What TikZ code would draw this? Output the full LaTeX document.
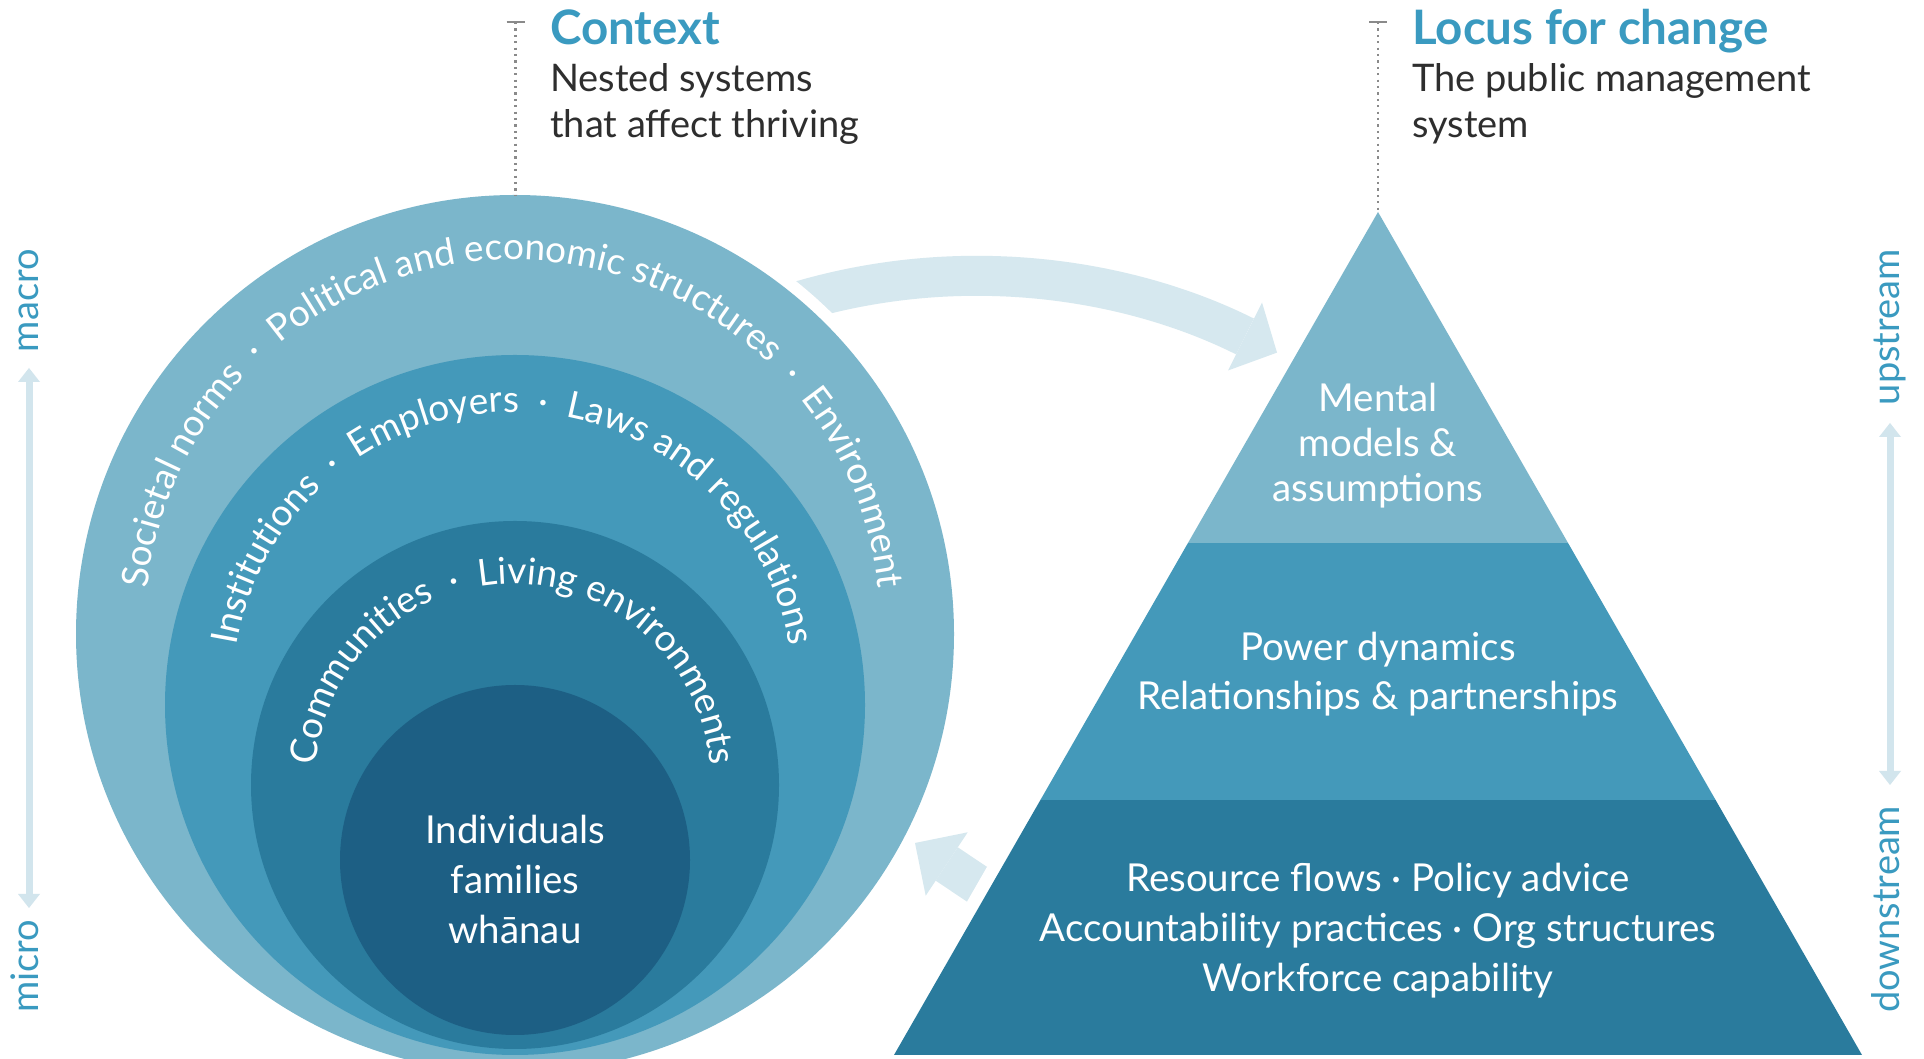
\documentclass[tikz,border=0pt]{standalone}
\usepackage{fontspec}
\setmainfont{Lato}
\usetikzlibrary{calc,decorations.text}
\definecolor{ringA}{HTML}{7BB6CB}
\definecolor{ringB}{HTML}{4499BA}
\definecolor{ringC}{HTML}{2A7B9D}
\definecolor{ringD}{HTML}{1D5F84}
\definecolor{flow}{HTML}{D6E8EF}
\definecolor{axisc}{HTML}{D2E5ED}
\definecolor{headc}{HTML}{3A9AC0}
\definecolor{bodyc}{HTML}{2E2E2E}
\definecolor{leader}{HTML}{8A8A8A}
\begin{document}
\begin{tikzpicture}[x=1pt,y=1pt,
  flowband/.style={draw=flow, line width=40pt},
  axisshaft/.style={draw=axisc, line width=7pt},
  axislabel/.style={text=headc, font=\fontsize{38}{40}\selectfont, inner sep=0pt, rotate=90},
  titletext/.style={text=headc, font=\bfseries\fontsize{47.5}{50}\selectfont, inner sep=0pt, anchor=base west},
  subtext/.style={text=bodyc, font=\fontsize{38}{44}\selectfont, inner sep=0pt, anchor=base west},
  leaderline/.style={draw=leader, line width=2.2pt, dash pattern=on 2.2pt off 4.2pt},
  leadertick/.style={draw=leader, line width=2pt},
  inside/.style={text=white, align=center, font=\fontsize{38.5}{50}\selectfont, inner sep=0pt},
  ringlabel/.style={decorate, decoration={text along path,
      text align=center, text color=white,
      text={|\fontsize{37}{40}\selectfont|#1}}}
]
\useasboundingbox (0,0) rectangle (1924,1059);
\fill[white] (0,0) rectangle (1924,1059);
\clip (0,0) rectangle (1924,1059);

% key points
\coordinate (c1) at (515,425);
\coordinate (c2) at (515,354);
\coordinate (c3) at (515,274);
\coordinate (c4) at (515,199);
\coordinate (apex) at (1378,847);
\coordinate (bl) at (894,4);
\coordinate (br) at (1862,4);
\coordinate (l1) at ($(apex)!0.3926!(bl)$);
\coordinate (r1) at ($(apex)!0.3926!(br)$);
\coordinate (l2) at ($(apex)!0.6975!(bl)$);
\coordinate (r2) at ($(apex)!0.6975!(br)$);

% upper flow arrow: circle -> pyramid
\coordinate (fs) at (800,758);
\coordinate (fb) at (1245,722.5);
\coordinate (ft) at (1277,706.4);
\coordinate (fw1) at (1262,756.5);
\coordinate (fw2) at (1228,688.5);
\draw[flowband] (fs) .. controls (964,806) and (1129,780.5) .. (fb);
\fill[flow] (fw1) -- (ft) -- (fw2) -- cycle;

% lower flow arrow: pyramid -> circle
\coordinate (gs) at (1023,144);
\coordinate (gb) at (946.7,195);
\coordinate (gt) at (915,216);
\coordinate (gw1) at (967.7,226.7);
\coordinate (gw2) at (925.7,163.3);
\draw[flowband] (gs) -- (gb);
\fill[flow] (gw1) -- (gt) -- (gw2) -- cycle;

% white gaps around the two shapes
\fill[white] (c1) circle (451);
\draw[white, line width=26pt, line join=miter] (apex) -- (bl) -- (br) -- cycle;

% nested circles
\fill[ringA] (c1) circle (439);
\fill[ringB] (c2) circle (350);
\fill[ringC] (c3) circle (264);
\fill[ringD] (c4) circle (175);

% pyramid bands
\fill[ringC] (l2) -- (bl) -- (br) -- (r2) -- cycle;
\fill[ringB] (l1) -- (l2) -- (r2) -- (r1) -- cycle;
\fill[ringA] (apex) -- (l1) -- (r1) -- cycle;

% curved ring labels, centred on the top of each arc
\coordinate (oc) at (513,431.5);
\coordinate (mc) at (513,366.6);
\coordinate (ic) at (513,277.5);
\path[ringlabel={Societal norms {\kern9pt·\kern9pt} Political and economic structures {\kern9pt·\kern9pt} Environment}]
  ($(oc)+(190:367.5)$) arc[start angle=190, end angle=-10, radius=367.5];
\path[ringlabel={Institutions {\kern9pt·\kern9pt} Employers {\kern9pt·\kern9pt} Laws and regulations}]
  ($(mc)+(190:280.4)$) arc[start angle=190, end angle=-10, radius=280.4];
\path[ringlabel={Communities {\kern9pt·\kern9pt} Living environments}]
  ($(ic)+(195:197.5)$) arc[start angle=195, end angle=-15, radius=197.5];

\node[inside] (core) at (515,180) {Individuals\\families\\wh\=anau};

% pyramid labels
\node[inside, font=\fontsize{38.5}{45}\selectfont] (mental) at (1378,613.5) {Mental\\models \&\\assumptions};
\node[inside, font=\fontsize{38.5}{49}\selectfont] (power) at (1378,384.5) {Power dynamics\\Relationships \& partnerships};
\node[inside] (resource) at (1378,128) {Resource flows · Policy advice\\Accountability practices · Org structures\\Workforce capability};

% headings
\node[titletext] (ctxT) at (550,1014) {Context};
\node[subtext] (ctxA) at (550,967) {Nested systems};
\node[subtext] (ctxB) at (550,921) {that affect thriving};
\node[titletext] (locT) at (1412,1014) {Locus for change};
\node[subtext] (locA) at (1412,967) {The public management};
\node[subtext] (locB) at (1412,921) {system};

% leader lines
\coordinate (ltop) at (515.5,1037);
\coordinate (lbot) at (515.5,864);
\coordinate (rtop) at (1378,1037);
\draw[leaderline] (ltop) -- (lbot);
\draw[leadertick] ($(ltop)+(-9,0)$) -- ($(ltop)+(9,0)$);
\draw[leaderline] (rtop) -- (apex);
\draw[leadertick] ($(rtop)+(-9,0)$) -- ($(rtop)+(9,0)$);

% left axis: macro / micro
\coordinate (la) at (29,691);
\coordinate (lb) at (29,151);
\draw[axisshaft] ($(la)+(0,-13)$) -- ($(lb)+(0,13)$);
\fill[axisc] ($(la)+(-11,-14)$) -- (la) -- ($(la)+(11,-14)$) -- cycle;
\fill[axisc] ($(lb)+(-11,14)$) -- (lb) -- ($(lb)+(11,14)$) -- cycle;
\node[axislabel, anchor=base east] (macro) at (38,810) {macro};
\node[axislabel, anchor=base west] (micro) at (38,46) {micro};

% right axis: upstream / downstream
\coordinate (ra) at (1890,636);
\coordinate (rb) at (1890,274);
\draw[axisshaft] ($(ra)+(0,-13)$) -- ($(rb)+(0,13)$);
\fill[axisc] ($(ra)+(-11,-14)$) -- (ra) -- ($(ra)+(11,-14)$) -- cycle;
\fill[axisc] ($(rb)+(-11,14)$) -- (rb) -- ($(rb)+(11,14)$) -- cycle;
\node[axislabel, anchor=base east] (up) at (1899,810) {upstream};
\node[axislabel, anchor=base west] (down) at (1899,46) {downstream};
\end{tikzpicture}
\end{document}
